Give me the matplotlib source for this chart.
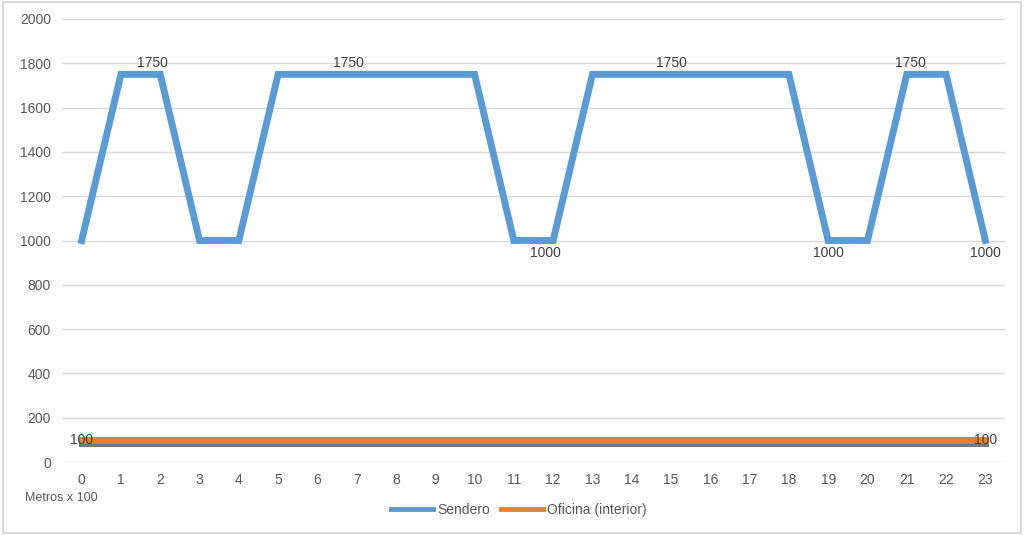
import matplotlib
matplotlib.use("Agg")
import matplotlib.pyplot as plt
import matplotlib.patheffects as pe
from matplotlib import font_manager

names = {f.name for f in font_manager.fontManager.ttflist}
fam = ['Liberation Sans Narrow', 'DejaVu Sans'] if 'Liberation Sans Narrow' in names else ['Liberation Sans', 'DejaVu Sans']
plt.rcParams['font.family'] = fam

hours = list(range(24))
sendero = [1000, 1750, 1750, 1000, 1000, 1750, 1750, 1750, 1750, 1750, 1750, 1000,
           1000, 1750, 1750, 1750, 1750, 1750, 1750, 1000, 1000, 1750, 1750, 1000]
oficina = [100] * 24

# data label positions (x on category axis)
top_labels_x = [1.8, 6.8, 15.0, 21.1]
low_labels_x = [11.8, 19.0, 23.0]
of_labels_x = [0, 23]

blue = '#5b9bd5'
orange = '#ed7d31'
grey = '#595959'

fig = plt.figure(figsize=(10.24, 5.35), dpi=100)
ax = fig.add_axes([62 / 1024, 1 - 462 / 535, (1005 - 62) / 1024, (462 - 19) / 535])

ax.plot(hours, sendero, color=blue, lw=5, solid_joinstyle='miter', label='Sendero', zorder=3)
ax.plot(hours, oficina, color=orange, lw=5, label='Oficina (interior)', zorder=3,
        path_effects=[pe.SimpleLineShadow(offset=(0, -2), shadow_color='#555555', alpha=0.8), pe.Normal()])

for x in top_labels_x:
    ax.text(x, 1750 + 20, '1750', ha='center', va='bottom', fontsize=10, color='#404040', zorder=4)
for x in low_labels_x:
    ax.text(x, 1000 - 25, '1000', ha='center', va='top', fontsize=10, color='#404040', zorder=4)
for x in of_labels_x:
    ax.text(x, oficina[x], '100', ha='center', va='center', fontsize=10, color='#404040', zorder=4)

ax.set_xlim(-0.5, 23.5)
ax.set_ylim(0, 2000)
ax.set_xticks(hours)
ax.set_yticks(range(0, 2001, 200))
ax.tick_params(length=0, labelsize=10, colors=grey, pad=8)
ax.grid(axis='y', color='#d9d9d9', lw=1)
ax.set_axisbelow(True)
for s in ax.spines.values():
    s.set_visible(False)

fig.text(25 / 1024, 1 - 498 / 535, 'Metros x 100', fontsize=9, color=grey, va='center')
leg = fig.legend(loc='center', bbox_to_anchor=(519 / 1024, 1 - 510 / 535), ncol=2, frameon=False,
                 fontsize=10, handlelength=3.0, columnspacing=0.8, handletextpad=0.3,
                 labelcolor=grey)
for h in leg.get_lines():
    h.set_linewidth(3.5)
    h.set_path_effects([])

fig.patches.append(plt.Rectangle((0.003, 0.004), 0.994, 0.992, transform=fig.transFigure,
                                 fill=False, edgecolor='#d9d9d9', lw=1.5))

fig.savefig('out.png', dpi=100)
